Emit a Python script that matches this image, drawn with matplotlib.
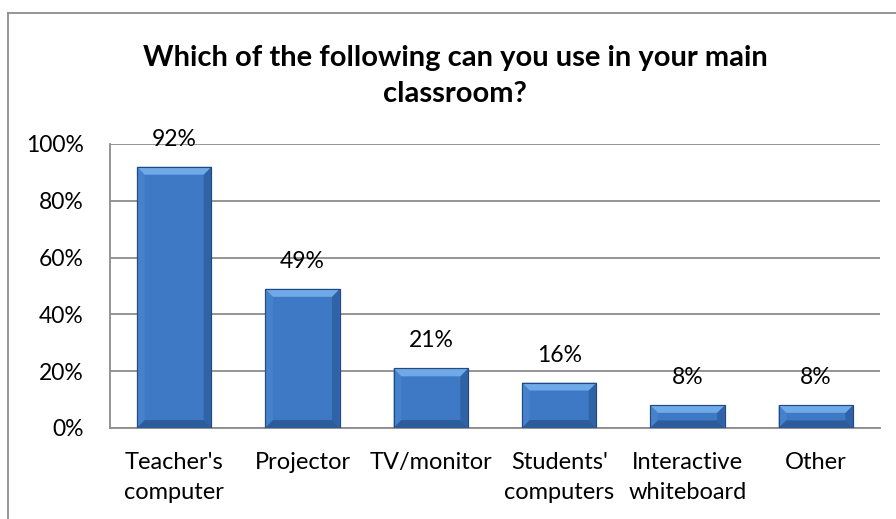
import numpy as np
import matplotlib
matplotlib.use("Agg")
import matplotlib.pyplot as plt
from matplotlib.patches import Polygon, Rectangle

# dati
categories = ["Teacher's\ncomputer", "Projector", "TV/monitor",
              "Students'\ncomputers", "Interactive\nwhiteboard", "Other"]
values = [92, 49, 21, 16, 8, 8]
labels = ["92%", "49%", "21%", "16%", "8%", "8%"]
yticks = [0, 20, 40, 60, 80, 100]

plt.rcParams['font.family'] = ['Lato', 'DejaVu Sans']

fig = plt.figure(figsize=(8.96, 5.19), dpi=100)
ax = fig.add_axes([110 / 896, 1 - 428 / 519, 770 / 896, 284 / 519])

x = np.arange(len(values))
width = 0.58
body = '#3d79c4'
ax.bar(x, values, width=width, color=body, edgecolor='#23497e',
       linewidth=0.8, zorder=3)

# effetto bevel stile Excel
bev_x = 0.06
bev_y = 2.8
for xi, v, lab in zip(x, values, labels):
    l, r = xi - width / 2, xi + width / 2
    by = min(bev_y, v / 3)
    top = Polygon([(l, v), (r, v), (r - bev_x, v - by), (l + bev_x, v - by)],
                  closed=True, facecolor='#6fa9e8', edgecolor='none', zorder=4)
    bot = Polygon([(l, 0), (r, 0), (r - bev_x, by), (l + bev_x, by)],
                  closed=True, facecolor='#2c5c9c', edgecolor='none', zorder=4)
    rside = Polygon([(r, 0), (r, v), (r - bev_x, v - by), (r - bev_x, by)],
                    closed=True, facecolor='#3062a6', edgecolor='none', zorder=4)
    lside = Polygon([(l, 0), (l, v), (l + bev_x, v - by), (l + bev_x, by)],
                    closed=True, facecolor='#4682cc', edgecolor='none', zorder=4)
    for p in (rside, lside, top, bot):
        ax.add_patch(p)
    ax.add_patch(Rectangle((l, 0), width, v, fill=False, edgecolor='#23497e',
                           linewidth=0.8, zorder=5))
    ax.text(xi, v + 6.0, lab, ha='center', va='bottom',
            fontsize=16.5, color='black', zorder=6)

ax.set_xlim(-0.5, len(values) - 0.5)
ax.set_ylim(0, 100)
ax.set_yticks(yticks)
ax.set_yticklabels([f'{t}%' for t in yticks], fontsize=16.5)
ax.set_xticks(x)
ax.set_xticklabels(categories, fontsize=17, linespacing=1.55)
ax.tick_params(axis='x', length=0, pad=17)
ax.tick_params(axis='y', length=0, pad=19)
ax.yaxis.grid(True, color='#8c8c8c', linewidth=1.3, zorder=0)
ax.set_axisbelow(True)
for s in ['top', 'right']:
    ax.spines[s].set_visible(False)
for s in ['left', 'bottom']:
    ax.spines[s].set_color('#8c8c8c')
    ax.spines[s].set_linewidth(1.3)

fig.text(455 / 896, 1 - 76 / 519,
         'Which of the following can you use in your main\nclassroom?',
         ha='center', va='center', fontsize=21, fontweight='bold',
         linespacing=1.5)

# bordo esterno del grafico
fig.add_artist(plt.Line2D([8 / 896, 8 / 896], [0, 1 - 13 / 519],
                          transform=fig.transFigure, color='#8c8c8c', lw=1.3))
fig.add_artist(plt.Line2D([8 / 896, 1], [1 - 13 / 519, 1 - 13 / 519],
                          transform=fig.transFigure, color='#8c8c8c', lw=1.3))

fig.savefig('out.png', dpi=100)
